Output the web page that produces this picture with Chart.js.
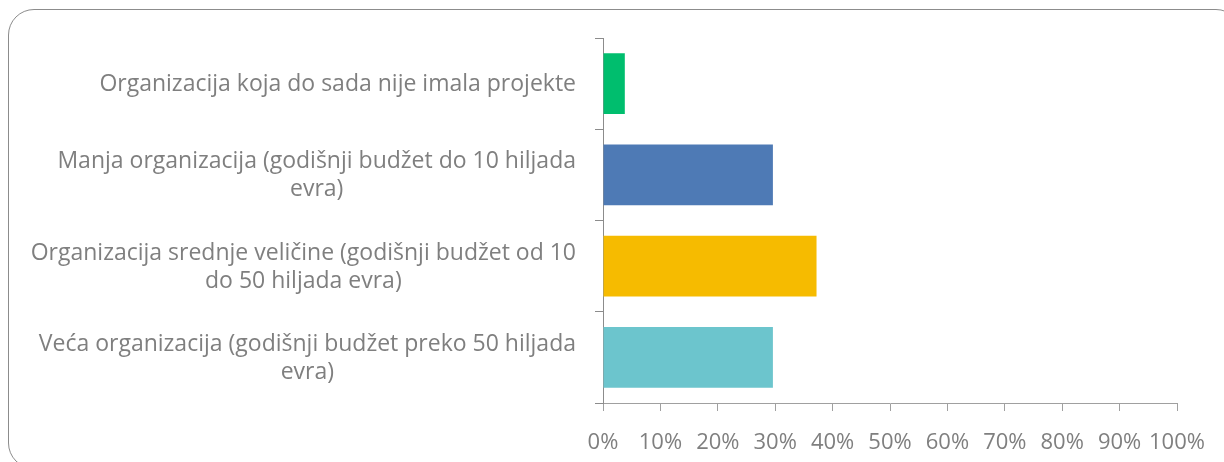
<!DOCTYPE html>
<html>
<head>
<meta charset="utf-8">
<script src="https://cdn.jsdelivr.net/npm/chart.js@4"></script>
<style>
    html, body { margin: 0; padding: 0; background: #fff; overflow: hidden; }
    #wrap { position: relative; width: 1224px; height: 462px; overflow: hidden; }
    #frame {
        position: absolute; left: 8px; top: 9px; width: 1234px; height: 460px;
        border: 1px solid #8c8c8c; border-radius: 26px; box-sizing: border-box;
    }
    #myBarChart { position: absolute; left: 0; top: 0; }
</style>
</head>
<body>
<div id="wrap">
    <div id="frame"></div>
    <canvas id="myBarChart" width="1224" height="462"></canvas>
</div>
<script>
// categories (already split into lines as in the picture)
var arrLabels = [
    ["Organizacija koja do sada nije imala projekte"],
    ["Manja organizacija (godišnji budžet do 10 hiljada", "evra)"],
    ["Organizacija srednje veličine (godišnji budžet od 10", "do 50 hiljada evra)"],
    ["Veća organizacija (godišnji budžet preko 50 hiljada", "evra)"]
];
var arrValues = [3.8, 29.6, 37.2, 29.6];
var arrColors = ["#00BE6E", "#4E7AB5", "#F6BB00", "#6CC5CD"];
var arrTicks = [0, 10, 20, 30, 40, 50, 60, 70, 80, 90, 100];

var strFont = "'Open Sans', sans-serif";
var strGrey = "#7f7f7f";

// draws the category labels right aligned as a block, lines centred inside it
var labelPlugin = {
    id: 'blockLabels',
    afterDraw: function (chart) {
        var ctx = chart.ctx;
        var yScale = chart.scales.y;
        var intRight = yScale.right - 27;
        ctx.save();
        ctx.font = "23px " + strFont;
        ctx.fillStyle = strGrey;
        ctx.textAlign = 'center';
        ctx.textBaseline = 'middle';
        arrLabels.forEach(function (arrLines, i) {
            var intMax = 0;
            arrLines.forEach(function (strLine) {
                intMax = Math.max(intMax, ctx.measureText(strLine).width);
            });
            var x = intRight - intMax / 2;
            var yMid = yScale.getPixelForValue(i) + 1;
            var y0 = yMid - (arrLines.length - 1) * 28 / 2;
            arrLines.forEach(function (strLine, j) {
                ctx.fillText(strLine, x, y0 + j * 28);
            });
        });
        ctx.restore();
    }
};

var ctx = document.getElementById("myBarChart");
var myBarChart = new Chart(ctx, {
    type: 'bar',
    data: {
        labels: arrLabels,
        datasets: [{
            data: arrValues,
            backgroundColor: arrColors,
            borderWidth: 0,
            categoryPercentage: 1,
            barPercentage: 0.667
        }]
    },
    options: {
        indexAxis: 'y',
        responsive: false,
        animation: false,
        layout: { padding: { top: 38, right: 47, left: 0, bottom: 0 } },
        plugins: { legend: { display: false }, tooltip: { enabled: false } },
        scales: {
            x: {
                min: 0,
                max: 100,
                afterFit: function (scale) { scale.height = 59; },
                afterBuildTicks: function (scale) {
                    scale.ticks = arrTicks.map(function (v) { return { value: v }; });
                },
                grid: { drawOnChartArea: false, color: '#a0a0a0', tickLength: 8, lineWidth: 1 },
                border: { color: '#a0a0a0', width: 1 },
                ticks: {
                    color: strGrey,
                    font: { family: strFont, size: 22 },
                    padding: 19,
                    maxRotation: 0,
                    autoSkip: false,
                    callback: function (v) { return v + '%'; }
                }
            },
            y: {
                afterFit: function (scale) { scale.width = 603; },
                grid: { drawOnChartArea: false, color: '#8c8c8c', tickLength: 8, offset: true },
                border: { color: '#8c8c8c', width: 1 },
                ticks: { display: false }
            }
        }
    },
    plugins: [labelPlugin]
});
</script>
</body>
</html>
